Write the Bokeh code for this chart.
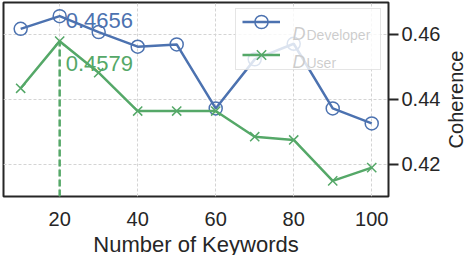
import math
from bokeh.plotting import figure
from bokeh.layouts import row
from bokeh.models import (ColumnDataSource, FixedTicker, Legend, LegendItem,
                          Label, Range1d)
from bokeh.core.properties import value
from bokeh.embed import file_html
from bokeh.resources import INLINE

# ---- data ----
keywords = [10, 20, 30, 40, 50, 60, 70, 80, 90, 100]
developer = [0.4617, 0.4656, 0.4607, 0.4562, 0.4569, 0.4372, 0.4523, 0.4571, 0.4372, 0.4326]
user = [0.4434, 0.4579, 0.4482, 0.4364, 0.4364, 0.4364, 0.4285, 0.4275, 0.4149, 0.4190]
x_ticks = [20, 40, 60, 80, 100]
y_ticks = [0.42, 0.44, 0.46]
y_tick_labels = ["0.42", "0.44", "0.46"]
best_k = 20
x_label = "Number of Keywords"
y_label = "Coherence"
legend_names = ["Developer", "User"]

BLUE = "#4c72b0"
GREEN = "#55a868"
FONT = "Liberation Sans"
DARK = "#262626"

y_lo, y_hi = 0.4101, 0.4698
p = figure(frame_width=385, frame_height=194, output_backend="svg",
           toolbar_location=None, y_axis_location="right",
           x_range=Range1d(5.6, 104.3), y_range=Range1d(y_lo, y_hi),
           min_border_left=3, min_border_top=2, min_border_right=52,
           min_border_bottom=59)
p.outline_line_color = DARK
p.outline_line_width = 2
p.outline_line_alpha = 1

# grid
p.xgrid.ticker = FixedTicker(ticks=x_ticks)
p.ygrid.ticker = FixedTicker(ticks=y_ticks)
for g in (p.xgrid, p.ygrid):
    g.grid_line_color = "#d4d4d4"
    g.grid_line_dash = "3 2"
    g.grid_line_width = 1

# axes
xa = p.xaxis[0]
xa.ticker = FixedTicker(ticks=x_ticks)
xa.major_tick_out = 0
xa.major_tick_in = 0
xa.minor_tick_out = 0
xa.minor_tick_in = 0
xa.axis_line_color = None
xa.major_label_standoff = 15
xa.major_label_text_font = FONT
xa.major_label_text_font_size = "20px"
xa.major_label_text_color = DARK
xa.axis_label = x_label
xa.axis_label_text_font = FONT
xa.axis_label_text_font_size = "22px"
xa.axis_label_text_font_style = "normal"
xa.axis_label_text_color = DARK
xa.axis_label_standoff = 3

ya = p.yaxis[0]
ya.ticker = FixedTicker(ticks=y_ticks)
ya.major_label_overrides = {t: s for t, s in zip(y_ticks, y_tick_labels)}
ya.major_tick_out = 10
ya.major_tick_in = 0
ya.major_tick_line_width = 2
ya.major_tick_line_color = DARK
ya.minor_tick_out = 0
ya.minor_tick_in = 0
ya.axis_line_color = None
ya.major_label_standoff = 3
ya.major_label_text_font = FONT
ya.major_label_text_font_size = "20px"
ya.major_label_text_color = DARK

src = ColumnDataSource(dict(x=keywords, dev=developer, user=user))

dev_line = p.line("x", "dev", source=src, color=BLUE, line_width=2.5)
dev_pts = p.scatter("x", "dev", source=src, marker="circle", size=13,
                    fill_color=None, line_color=BLUE, line_width=1.5)
usr_line = p.line("x", "user", source=src, color=GREEN, line_width=2.5)
usr_pts = p.scatter("x", "user", source=src, marker="x", size=13,
                    line_color=GREEN, line_width=1.5)

# best-k marker line and annotations
bi = keywords.index(best_k)
p.segment(x0=[best_k], y0=[y_lo], x1=[best_k], y1=[user[bi]],
          line_color=GREEN, line_width=2.5, line_dash="7 3")
p.text(x=[best_k], y=[developer[bi]], text=["%.4f" % developer[bi]],
       x_offset=6, y_offset=4, text_color=BLUE, text_font=value(FONT),
       text_font_size="22px", text_baseline="alphabetic")
p.text(x=[best_k], y=[user[bi]], text=["%.4f" % user[bi]],
       x_offset=6, y_offset=22, text_color=GREEN, text_font=value(FONT),
       text_font_size="22px", text_baseline="alphabetic")

# legend background box (an empty legend entry used only for its frame)
dummy = p.line(x=[], y=[], line_alpha=0)
box = Legend(items=[LegendItem(label=" ", renderers=[dummy])],
             location=(232, 126), padding=0, margin=0, spacing=0,
             glyph_width=144, glyph_height=60, label_width=0,
             label_height=0, label_standoff=0, label_text_font_size="1px",
             background_fill_color="white", background_fill_alpha=0.8,
             border_line_color="#cccccc", border_line_width=1.5)
p.add_layout(box)

legend = Legend(items=[LegendItem(label=" ", renderers=[dev_line, dev_pts]),
                       LegendItem(label=" ", renderers=[usr_line, usr_pts])],
                location=(239, 125), padding=0, margin=0, spacing=-4,
                glyph_width=38, glyph_height=33, label_width=0,
                label_height=33, label_standoff=0,
                label_text_font_size="1px", background_fill_alpha=0,
                border_line_color=None)
p.add_layout(legend)

rows_y = [(162.7, 161.5), (134.3, 133.2)]
for name, (yd, ys) in zip(legend_names, rows_y):
    p.add_layout(Label(x=289, y=yd, x_units="screen", y_units="screen",
                       text="D", text_font=FONT, text_font_size="18px",
                       text_font_style="italic", text_color="black",
                       text_baseline="alphabetic", level="overlay"))
    p.add_layout(Label(x=303, y=ys, x_units="screen", y_units="screen",
                       text=name, text_font=FONT, text_font_size="14px",
                       text_color="black", text_baseline="alphabetic",
                       level="overlay"))

# narrow strip on the right carrying the axis title, reading bottom to top
p2 = figure(frame_width=25, frame_height=194, output_backend="svg",
            toolbar_location=None, x_axis_type=None, y_axis_type=None,
            min_border_left=0, min_border_right=0, min_border_top=2,
            min_border_bottom=59)
p2.outline_line_color = None
p2.add_layout(Label(x=12.5, y=97, x_units="screen", y_units="screen",
                    text=y_label, angle=math.pi / 2, text_font=FONT,
                    text_font_size="20px", text_color=DARK,
                    text_align="center", text_baseline="middle"))

layout = row(p, p2, spacing=0)
open("out.html", "w").write(file_html(layout, INLINE))
